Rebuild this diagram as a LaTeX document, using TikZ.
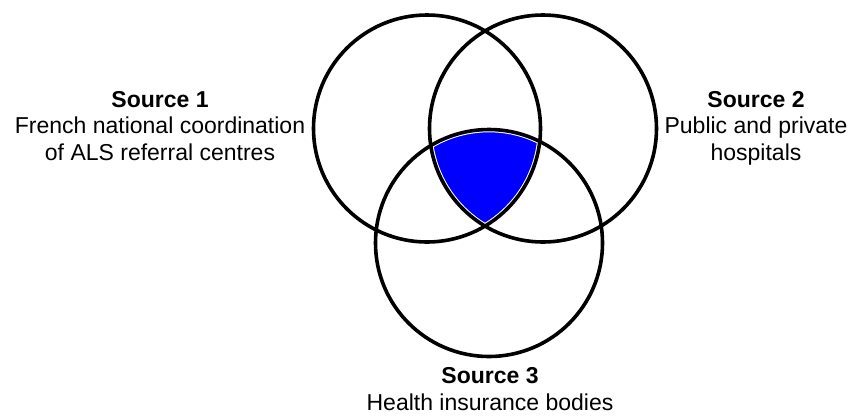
\documentclass[tikz,border=0pt]{standalone}
\usepackage{fontspec}
\setmainfont{Liberation Sans}
\begin{document}
\begin{tikzpicture}[x=1pt,y=-1pt,
  ring/.style={draw=black,line width=3.6pt},
  rim/.style={draw=white,line width=5.6pt},
  lbl/.style={align=center,font=\fontsize{23}{26.5}\selectfont,inner sep=0pt}]
\useasboundingbox (0,0) rectangle (862,416);
\coordinate (c1) at (427,128.5);
\coordinate (c2) at (543,128.5);
\coordinate (c3) at (489,243);
\begin{scope}
  \clip (c1) circle (113.5);
  \clip (c2) circle (113.5);
  \fill[blue] (c3) circle (113.5);
\end{scope}
\draw[rim] (c1) circle (113.5);
\draw[rim] (c2) circle (113.5);
\draw[rim] (c3) circle (113.5);
\draw[ring] (c1) circle (113.5);
\draw[ring] (c2) circle (113.5);
\draw[ring] (c3) circle (113.5);
\node[lbl,anchor=base] (s1) at (160,160) {\textbf{Source 1}\\French national coordination\\of ALS referral centres};
\node[lbl,anchor=base] (s2) at (756,160) {\textbf{Source 2}\\Public and private\\hospitals};
\node[lbl,anchor=base] (s3) at (490,410) {\textbf{Source 3}\\Health insurance bodies};
\end{tikzpicture}
\end{document}
